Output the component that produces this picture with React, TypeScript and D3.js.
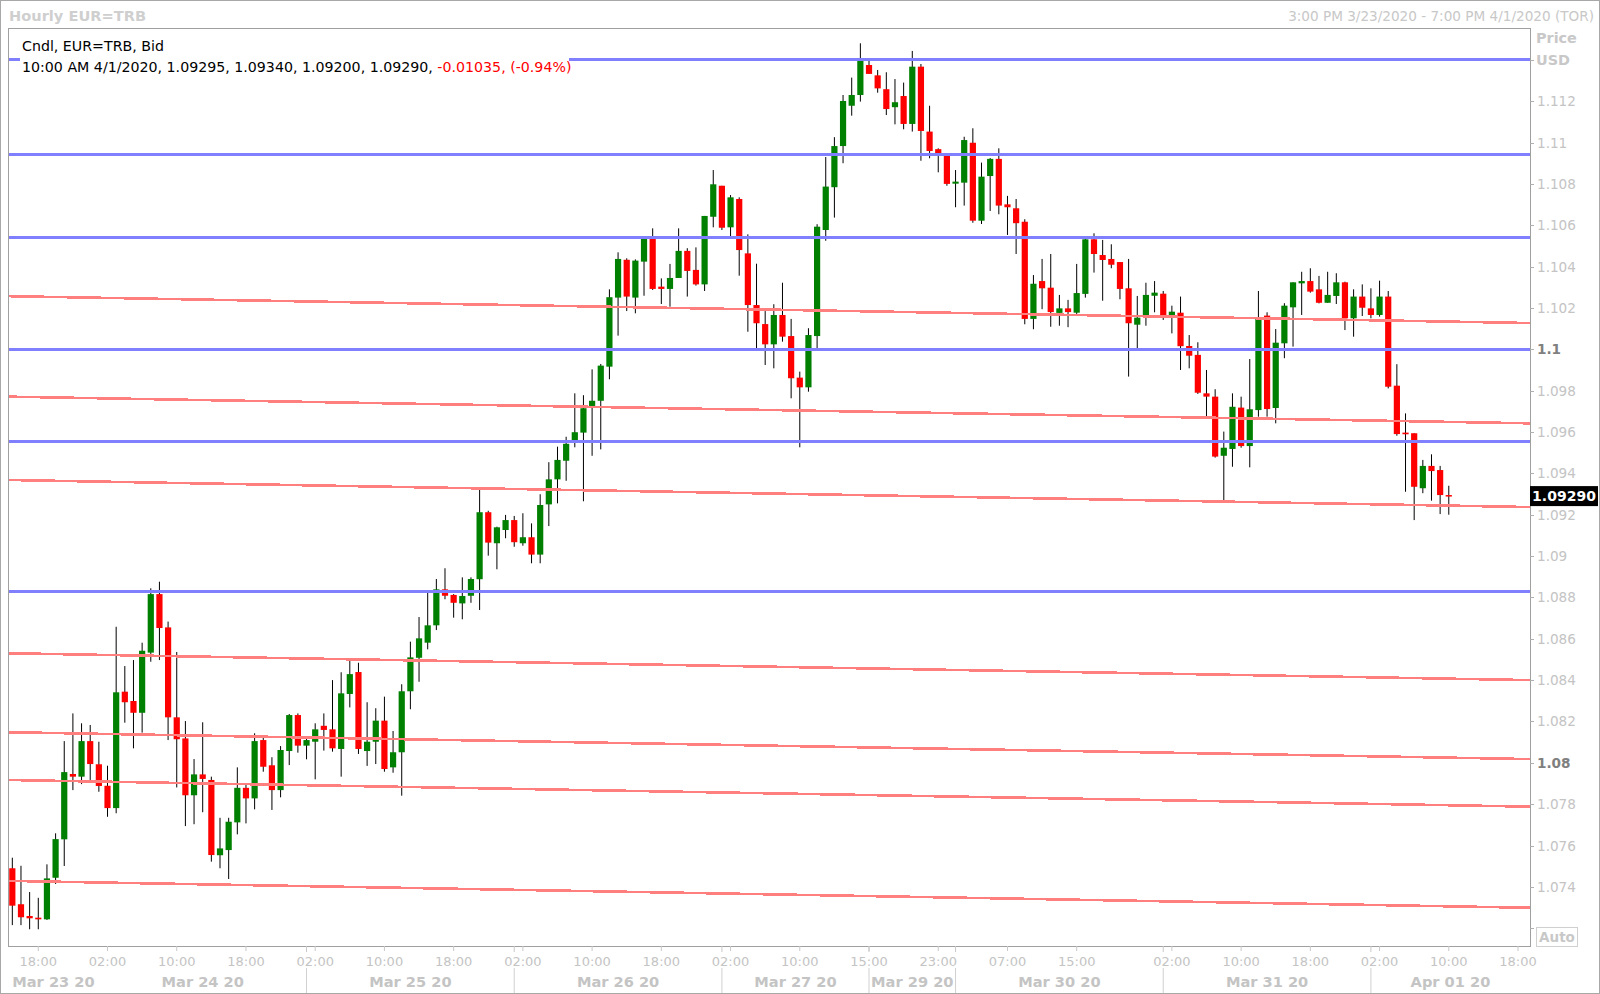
import React from "react";
import * as d3 from "d3";

// ---- Data (hourly EUR=TRB candles, slot index = hour since 3:00 PM 3/23/2020, trading hours only) ----
const open = [
  1.07490, 1.07316, 1.07259, 1.07251, 1.07243, 1.07444, 1.07630, 1.07946, 1.07933, 1.08105,
  1.07993, 1.07889, 1.07781, 1.08344, 1.08299, 1.08242, 1.08533, 1.08816, 1.08655, 1.08220,
  1.08118, 1.07843, 1.07944, 1.07917, 1.07553, 1.07578, 1.07712, 1.07879, 1.07828, 1.08110,
  1.07988, 1.07868, 1.08057, 1.08231, 1.08083, 1.08102, 1.08179, 1.08162, 1.08067, 1.08333,
  1.08439, 1.08057, 1.08102, 1.08204, 1.07978, 1.08051, 1.08346, 1.08508, 1.08581, 1.08665,
  1.08839, 1.08812, 1.08771, 1.08808, 1.08888, 1.09212, 1.09062, 1.09126, 1.09174, 1.09062,
  1.09091, 1.09007, 1.09250, 1.09371, 1.09461, 1.09561, 1.09597, 1.09726, 1.09751, 1.09916,
  1.10250, 1.10433, 1.10250, 1.10424, 1.10540, 1.10303, 1.10292, 1.10345, 1.10476, 1.10384,
  1.10314, 1.10641, 1.10791, 1.10590, 1.10727, 1.10464, 1.10214, 1.10122, 1.10024, 1.10166,
  1.10064, 1.09863, 1.09816, 1.10064, 1.10577, 1.10784, 1.10983, 1.11178, 1.11230, 1.11375,
  1.11325, 1.11258, 1.11171, 1.11225, 1.11090, 1.11367, 1.11053, 1.10968, 1.10937, 1.10801,
  1.10806, 1.10999, 1.10622, 1.10838, 1.10921, 1.10701, 1.10682, 1.10617, 1.10147, 1.10330,
  1.10298, 1.10176, 1.10198, 1.10177, 1.10268, 1.10532, 1.10456, 1.10437, 1.10422, 1.10295,
  1.10119, 1.10164, 1.10259, 1.10269, 1.10166, 1.10177, 1.10016, 1.09973, 1.09787, 1.09771,
  1.09485, 1.09518, 1.09718, 1.09532, 1.09706, 1.10163, 1.09716, 1.10029, 1.10203, 1.10319,
  1.10330, 1.10290, 1.10225, 1.10258, 1.10324, 1.10150, 1.10255, 1.10198, 1.10166, 1.10255,
  1.09824, 1.09597, 1.09594, 1.09328, 1.09436, 1.09416, 1.09295,
];
const high = [
  1.07541, 1.07502, 1.07375, 1.07347, 1.07509, 1.07659, 1.08105, 1.08239, 1.08191, 1.08183,
  1.08102, 1.07986, 1.08658, 1.08468, 1.08497, 1.08581, 1.08844, 1.08876, 1.08683, 1.08536,
  1.08202, 1.08018, 1.08196, 1.07933, 1.07734, 1.07734, 1.07978, 1.07901, 1.08143, 1.08123,
  1.08027, 1.08081, 1.08236, 1.08239, 1.08123, 1.08191, 1.08239, 1.08400, 1.08438, 1.08497,
  1.08484, 1.08293, 1.08264, 1.08320, 1.08154, 1.08380, 1.08586, 1.08705, 1.08823, 1.08889,
  1.08941, 1.08816, 1.08897, 1.08897, 1.09320, 1.09219, 1.09142, 1.09199, 1.09194, 1.09207,
  1.09158, 1.09299, 1.09454, 1.09529, 1.09577, 1.09787, 1.09778, 1.09903, 1.09929, 1.10290,
  1.10469, 1.10440, 1.10435, 1.10548, 1.10585, 1.10343, 1.10413, 1.10585, 1.10489, 1.10493,
  1.10645, 1.10867, 1.10791, 1.10746, 1.10735, 1.10556, 1.10414, 1.10185, 1.10218, 1.10322,
  1.10147, 1.09892, 1.10102, 1.10605, 1.10930, 1.11026, 1.11230, 1.11314, 1.11480, 1.11399,
  1.11351, 1.11340, 1.11307, 1.11290, 1.11443, 1.11380, 1.11178, 1.10972, 1.10940, 1.10867,
  1.11028, 1.11069, 1.10903, 1.10925, 1.10972, 1.10742, 1.10727, 1.10629, 1.10359, 1.10437,
  1.10461, 1.10263, 1.10239, 1.10413, 1.10537, 1.10561, 1.10529, 1.10508, 1.10422, 1.10437,
  1.10258, 1.10322, 1.10330, 1.10282, 1.10211, 1.10255, 1.10069, 1.10034, 1.09900, 1.09807,
  1.09602, 1.09787, 1.09771, 1.09953, 1.10282, 1.10179, 1.10098, 1.10223, 1.10324, 1.10375,
  1.10392, 1.10355, 1.10375, 1.10368, 1.10327, 1.10290, 1.10314, 1.10295, 1.10332, 1.10282,
  1.09928, 1.09690, 1.09594, 1.09465, 1.09492, 1.09436, 1.09340,
];
const low = [
  1.07215, 1.07215, 1.07195, 1.07195, 1.07240, 1.07414, 1.07501, 1.07868, 1.07897, 1.07917,
  1.07860, 1.07739, 1.07756, 1.08194, 1.08070, 1.08146, 1.08489, 1.08497, 1.08110, 1.07881,
  1.07694, 1.07703, 1.07761, 1.07522, 1.07490, 1.07438, 1.07654, 1.07707, 1.07775, 1.07957,
  1.07772, 1.07833, 1.07989, 1.08049, 1.08017, 1.07920, 1.08059, 1.08054, 1.07933, 1.08268,
  1.08043, 1.07985, 1.07994, 1.07957, 1.07952, 1.07841, 1.08259, 1.08392, 1.08549, 1.08642,
  1.08791, 1.08702, 1.08694, 1.08774, 1.08739, 1.09002, 1.08936, 1.09086, 1.09045, 1.09050,
  1.08965, 1.08965, 1.09145, 1.09255, 1.09364, 1.09526, 1.09265, 1.09485, 1.09516, 1.09855,
  1.10066, 1.10185, 1.10174, 1.10259, 1.10287, 1.10219, 1.10206, 1.10345, 1.10255, 1.10308,
  1.10282, 1.10590, 1.10577, 1.10545, 1.10356, 1.10085, 1.10005, 1.09924, 1.09908, 1.10037,
  1.09763, 1.09526, 1.09795, 1.10005, 1.10525, 1.10637, 1.10900, 1.11130, 1.11198, 1.11332,
  1.11241, 1.11133, 1.11088, 1.11064, 1.11053, 1.10912, 1.10924, 1.10856, 1.10791, 1.10687,
  1.10695, 1.10612, 1.10606, 1.10669, 1.10653, 1.10553, 1.10461, 1.10121, 1.10097, 1.10194,
  1.10109, 1.10114, 1.10107, 1.10171, 1.10250, 1.10371, 1.10235, 1.10392, 1.10242, 1.09868,
  1.10005, 1.10114, 1.10179, 1.10142, 1.10077, 1.09900, 1.09908, 1.09784, 1.09677, 1.09476,
  1.09271, 1.09432, 1.09524, 1.09429, 1.09674, 1.09674, 1.09642, 1.09957, 1.10013, 1.10166,
  1.10274, 1.10222, 1.10225, 1.10219, 1.10093, 1.10061, 1.10161, 1.10150, 1.10158, 1.09811,
  1.09582, 1.09311, 1.09174, 1.09304, 1.09268, 1.09203, 1.09200,
];
const close = [
  1.07309, 1.07253, 1.07248, 1.07243, 1.07441, 1.07631, 1.07955, 1.07933, 1.08105, 1.07994,
  1.07888, 1.07781, 1.08341, 1.08293, 1.08242, 1.08542, 1.08816, 1.08652, 1.08220, 1.08114,
  1.07843, 1.07944, 1.07922, 1.07554, 1.07586, 1.07715, 1.07879, 1.07828, 1.08105, 1.07981,
  1.07868, 1.08062, 1.08231, 1.08083, 1.08110, 1.08162, 1.08159, 1.08070, 1.08336, 1.08429,
  1.08067, 1.08102, 1.08204, 1.07970, 1.08051, 1.08346, 1.08510, 1.08602, 1.08665, 1.08839,
  1.08808, 1.08774, 1.08807, 1.08889, 1.09212, 1.09065, 1.09139, 1.09174, 1.09067, 1.09091,
  1.09007, 1.09247, 1.09371, 1.09465, 1.09543, 1.09599, 1.09715, 1.09751, 1.09921, 1.10252,
  1.10437, 1.10255, 1.10429, 1.10540, 1.10292, 1.10292, 1.10345, 1.10476, 1.10379, 1.10314,
  1.10645, 1.10798, 1.10588, 1.10735, 1.10480, 1.10214, 1.10126, 1.10024, 1.10166, 1.10061,
  1.09860, 1.09816, 1.10069, 1.10593, 1.10787, 1.10983, 1.11201, 1.11230, 1.11395, 1.11332,
  1.11262, 1.11162, 1.11195, 1.11090, 1.11367, 1.11056, 1.10959, 1.10948, 1.10800, 1.10811,
  1.11012, 1.10622, 1.10835, 1.10921, 1.10695, 1.10687, 1.10610, 1.10147, 1.10317, 1.10295,
  1.10180, 1.10198, 1.10180, 1.10272, 1.10532, 1.10461, 1.10432, 1.10409, 1.10292, 1.10126,
  1.10153, 1.10263, 1.10274, 1.10164, 1.10182, 1.10015, 1.09969, 1.09790, 1.09771, 1.09481,
  1.09524, 1.09722, 1.09532, 1.09710, 1.10147, 1.09711, 1.10032, 1.10211, 1.10324, 1.10330,
  1.10279, 1.10225, 1.10263, 1.10324, 1.10150, 1.10255, 1.10201, 1.10166, 1.10255, 1.09819,
  1.09590, 1.09589, 1.09335, 1.09436, 1.09411, 1.09295, 1.09290,
];

// horizontal (blue) support / resistance levels
const blueLevels = [1.11403, 1.10943, 1.10542, 1.1, 1.09557, 1.08829];
// sloped (red) trend lines: value at left edge and right edge of the plot
const redStart = [1.10257, 1.09771, 1.09368, 1.0853, 1.08148, 1.07917, 1.07429];
const redEnd = [1.10127, 1.09642, 1.09237, 1.084, 1.08018, 1.07788, 1.07299];

// x axis ticks (slot index -> label)
const hourTickSlots = [3, 11, 19, 27, 35, 43, 51, 59, 67, 75, 83, 91, 99, 107, 115, 123, 134, 142, 150, 158, 166, 174];
const hourTickLabels = ["18:00", "02:00", "10:00", "18:00", "02:00", "10:00", "18:00", "02:00", "10:00", "18:00", "02:00", "10:00", "15:00", "23:00", "07:00", "15:00", "02:00", "10:00", "18:00", "02:00", "10:00", "18:00"];
const daySeparatorSlots = [10, 34, 58, 82, 99, 109, 133, 157];
const dayLabels = ["Mar 23 20", "Mar 24 20", "Mar 25 20", "Mar 26 20", "Mar 27 20", "Mar 29 20", "Mar 30 20", "Mar 31 20", "Apr 01 20"];

const priceTicks = d3.range(0, 22).map((i) => +(1.072 + i * 0.002).toFixed(3));

const lastPrice = 1.0929;

const FONT = "'DejaVu Sans', Verdana, sans-serif";

export default function App() {
  const W = 1600, H = 994;
  const L = 8, T = 28, R = 1530, B = 946;
  const nSlots = 176;
  const x = d3.scaleLinear().domain([-0.5, nSlots - 0.5]).range([L, R + 1]);
  const y = d3.scaleLinear().domain([1.07114, 1.11554]).range([B, T]);
  const bodyW = 6.2;

  const candles = open.map((o, i) => ({ i, o, h: high[i], l: low[i], c: close[i] }));

  const sepX = daySeparatorSlots.map((s) => x(s));
  const dayBounds = [L, ...sepX, R];

  const lightGray = "#c4c4c4";

  return (
    <svg width={W} height={H} style={{ position: "absolute", left: 0, top: 0, background: "#fff" }} fontFamily={FONT}>
      <rect x={0} y={0} width={W} height={H} fill="#fff" />
      <defs>
        <clipPath id="plotClip">
          <rect x={L} y={T} width={R - L} height={B - T} />
        </clipPath>
      </defs>

      {/* header */}
      <text x={9} y={21} fontSize={14.6} fontWeight="bold" fill="#cfcfcf">Hourly EUR=TRB</text>
      <text x={1594} y={21} fontSize={13.6} fill="#c8c8c8" textAnchor="end">3:00 PM 3/23/2020 - 7:00 PM 4/1/2020 (TOR)</text>

      <g clipPath="url(#plotClip)">
        {/* candles */}
        {candles.map((d) => {
          const up = d.c > d.o;
          const cx = x(d.i);
          const top = y(Math.max(d.o, d.c));
          const bot = y(Math.min(d.o, d.c));
          return (
            <g key={d.i}>
              <line x1={cx} x2={cx} y1={y(d.h)} y2={y(d.l)} stroke="#000" strokeWidth={1} />
              <rect x={cx - bodyW / 2} y={top} width={bodyW} height={Math.max(1.5, bot - top)} fill={up ? "#008000" : "#ff0000"} />
            </g>
          );
        })}

        {/* red trend lines */}
        {redStart.map((v, k) => (
          <line key={"r" + k} x1={L} x2={R} y1={y(v)} y2={y(redEnd[k])} stroke="#ff7f7f" strokeWidth={2.6} shapeRendering="crispEdges" />
        ))}
        {/* blue levels */}
        {blueLevels.map((v, k) => (
          <line key={"b" + k} x1={L} x2={R} y1={Math.round(y(v))} y2={Math.round(y(v))} stroke="#8080ff" strokeWidth={3} shapeRendering="crispEdges" />
        ))}
      </g>

      {/* legend box */}
      <rect x={20} y={36} width={549} height={42} fill="#fff" />
      <text x={22} y={51} fontSize={14.2} fill="#000">Cndl, EUR=TRB, Bid</text>
      <text x={22} y={72} fontSize={14.2} fill="#000">
        10:00 AM 4/1/2020, 1.09295, 1.09340, 1.09200, 1.09290,{" "}
        <tspan fill="#ff0000">-0.01035, (-0.94%)</tspan>
      </text>

      {/* plot frame */}
      <rect x={L + 0.5} y={T + 0.5} width={R - L} height={B - T} fill="none" stroke="#a0a0a0" strokeWidth={1} />

      {/* right price axis */}
      <text x={1536} y={43} fontSize={14.4} fontWeight="bold" fill="#c8c8c8">Price</text>
      <text x={1536} y={65} fontSize={14.4} fontWeight="bold" fill="#c8c8c8">USD</text>
      {priceTicks.map((v) => {
        const yy = y(v);
        const major = Math.abs(v - 1.1) < 1e-9 || Math.abs(v - 1.08) < 1e-9;
        const showLabel = v > 1.073 && v < 1.113;
        return (
          <g key={"t" + v}>
            <line x1={R} x2={R + 4} y1={Math.round(yy) + 0.5} y2={Math.round(yy) + 0.5} stroke="#b0b0b0" />
            {showLabel && (
              <text x={R + 7} y={yy + 5} fontSize={13.6} fill={major ? "#808080" : lightGray} fontWeight={major ? "bold" : "normal"}>
                {String(v)}
              </text>
            )}
          </g>
        );
      })}
      {/* last price label */}
      <rect x={R} y={y(lastPrice) - 10} width={68} height={20} fill="#000" />
      <text x={R + 34} y={y(lastPrice) + 5} fontSize={14} fontWeight="bold" fill="#fff" textAnchor="middle">1.09290</text>
      {/* Auto box */}
      <rect x={1536.5} y={927.5} width={41} height={19} fill="#fff" stroke="#d0d0d0" />
      <text x={1557} y={942} fontSize={13.5} fontWeight="bold" fill="#c8c8c8" textAnchor="middle">Auto</text>

      {/* x axis */}
      {hourTickSlots.map((s, k) => (
        <g key={"h" + k}>
          <line x1={x(s)} x2={x(s)} y1={B} y2={B + 5} stroke="#c8c8c8" />
          <text x={x(s)} y={966} fontSize={13} fill={lightGray} textAnchor="middle">{hourTickLabels[k]}</text>
        </g>
      ))}
      {sepX.map((sx, k) => (
        <g key={"s" + k}>
          {k > 0 && <line x1={sx} x2={sx} y1={B} y2={B + 6} stroke="#c8c8c8" />}
          {k > 0 && <line x1={sx} x2={sx} y1={968} y2={993} stroke="#d0d0d0" />}
        </g>
      ))}
      {dayLabels.map((lab, k) => (
        <text key={"d" + k} x={(dayBounds[k] + dayBounds[k + 1]) / 2} y={987} fontSize={14.6} fontWeight="bold" fill={lightGray} textAnchor="middle">
          {lab}
        </text>
      ))}

      {/* outer frame */}
      <rect x={0.5} y={0.5} width={W - 1} height={H - 1} fill="none" stroke="#a8a8a8" strokeWidth={1} />
    </svg>
  );
}
